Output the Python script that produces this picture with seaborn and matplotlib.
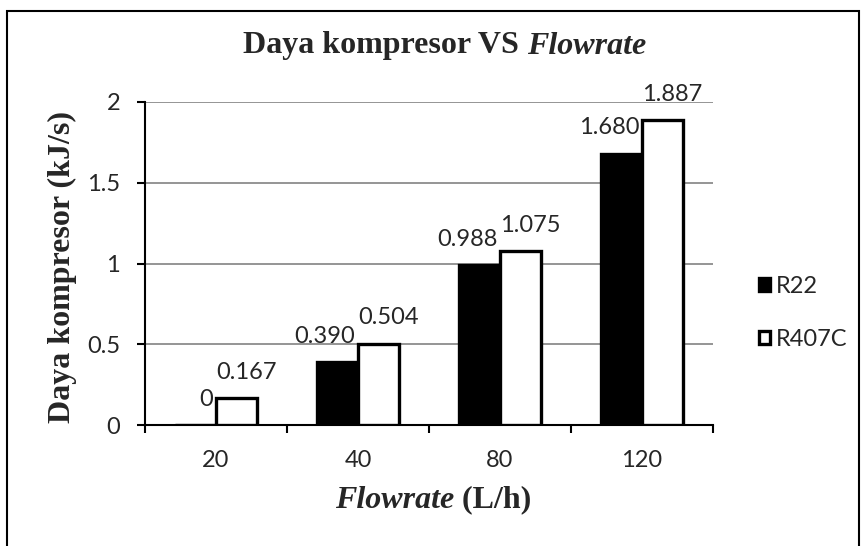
import numpy as np
import pandas as pd
import matplotlib
matplotlib.use('Agg')
import matplotlib.pyplot as plt
from matplotlib.patches import Rectangle
from matplotlib.ticker import FixedLocator, NullFormatter
import seaborn as sns

# data
flowrate = ['20', '40', '80', '120']
refrigerants = ['R22', 'R407C']
r22 = [0.0, 0.390, 0.988, 1.680]
r407c = [0.167, 0.504, 1.075, 1.887]
yticks = [0, 0.5, 1, 1.5, 2]

df = pd.DataFrame({
    'flowrate': flowrate * 2,
    'refrigerant': ['R22'] * len(r22) + ['R407C'] * len(r407c),
    'power': r22 + r407c,
})

sns.set_theme(style='white')
plt.rcParams['font.family'] = ['Lato', 'DejaVu Sans']
SERIF = 'Liberation Serif'
TICK_FS = 17
LABEL_FS = 23

fig = plt.figure(figsize=(8.64, 5.46), dpi=100)
ax = fig.add_axes([145 / 864, 1 - 425 / 546, 568 / 864, 323 / 546])

sns.barplot(data=df, x='flowrate', y='power', hue='refrigerant',
            order=flowrate, hue_order=refrigerants,
            palette=['black', 'white'], saturation=1,
            width=0.58, gap=0, edgecolor='black', linewidth=2.4,
            ax=ax, zorder=3)

# value labels: R22 right-aligned to its bar, R407C left-aligned
for cont, vals, side in zip(ax.containers, [r22, r407c], ['right', 'left']):
    for bar, v in zip(cont, vals):
        x = bar.get_x() + (bar.get_width() if side == 'right' else 0)
        txt = '0' if v == 0 else f'{v:.3f}'
        ax.annotate(txt, xy=(x, v), xytext=(-2 if side == 'right' else 0, 14),
                    textcoords='offset points', ha=side, va='baseline',
                    fontsize=TICK_FS, annotation_clip=False)

ax.set_xlim(-0.5, len(flowrate) - 0.5)
ax.set_ylim(0, 2)
ax.set_yticks(yticks, ['0', '0.5', '1', '1.5', '2'])
ax.xaxis.set_major_locator(FixedLocator(np.arange(len(flowrate) + 1) - 0.5))
ax.xaxis.set_major_formatter(NullFormatter())
ax.set_xticks(range(len(flowrate)), flowrate, minor=True)
ax.tick_params(axis='x', which='major', direction='out', length=6, width=1.5,
               color='black', bottom=True)
ax.tick_params(axis='x', which='minor', length=0, pad=18, labelsize=TICK_FS)
ax.tick_params(axis='y', direction='out', length=6, width=1.5, color='black',
               left=True, pad=12, labelsize=TICK_FS)
ax.set_xlabel('')
ax.set_ylabel('')

ax.yaxis.grid(True, color='#8c8c8c', lw=1.3)
ax.set_axisbelow(True)
for s in ['top', 'right']:
    ax.spines[s].set_visible(False)
for s in ['left', 'bottom']:
    ax.spines[s].set_color('black')
    ax.spines[s].set_linewidth(1.5)

sns.move_legend(ax, 'center left', bbox_to_anchor=(759 / 864, 1 - 313 / 546),
                bbox_transform=fig.transFigure, title=None, frameon=False,
                fontsize=TICK_FS, handlelength=0.45, handleheight=0.45,
                handletextpad=0.25, labelspacing=1.35, borderpad=0,
                borderaxespad=0)


def rich_line(xc, yc, parts, size):
    """horizontal text made of several bold runs, centred on xc"""
    r = fig.canvas.get_renderer()
    texts = [fig.text(0, yc, s, fontsize=size, fontweight='bold', fontstyle=st,
                      family=SERIF, va='center', ha='left') for s, st in parts]
    widths = [t.get_window_extent(r).width for t in texts]
    x0 = xc * fig.bbox.width - sum(widths) / 2
    for t, w in zip(texts, widths):
        t.set_x(x0 / fig.bbox.width)
        x0 += w


rich_line(445 / 864, 1 - 46 / 546, [('Daya kompresor VS ', 'normal'), ('Flowrate', 'italic')], LABEL_FS)
rich_line(433 / 864, 1 - 500 / 546, [('Flowrate', 'italic'), (' (L/h)', 'normal')], LABEL_FS)
fig.text(62 / 864, 1 - 267 / 546, 'Daya kompresor (kJ/s)', rotation=90, fontsize=LABEL_FS,
         fontweight='bold', family=SERIF, ha='center', va='center')

# chart area border
fig.patches.append(Rectangle((7 / 864, -0.1), 852 / 864, 1.1 - 11 / 546, fill=False,
                             edgecolor='black', lw=1.5, transform=fig.transFigure))

fig.savefig('out.png', dpi=100)
